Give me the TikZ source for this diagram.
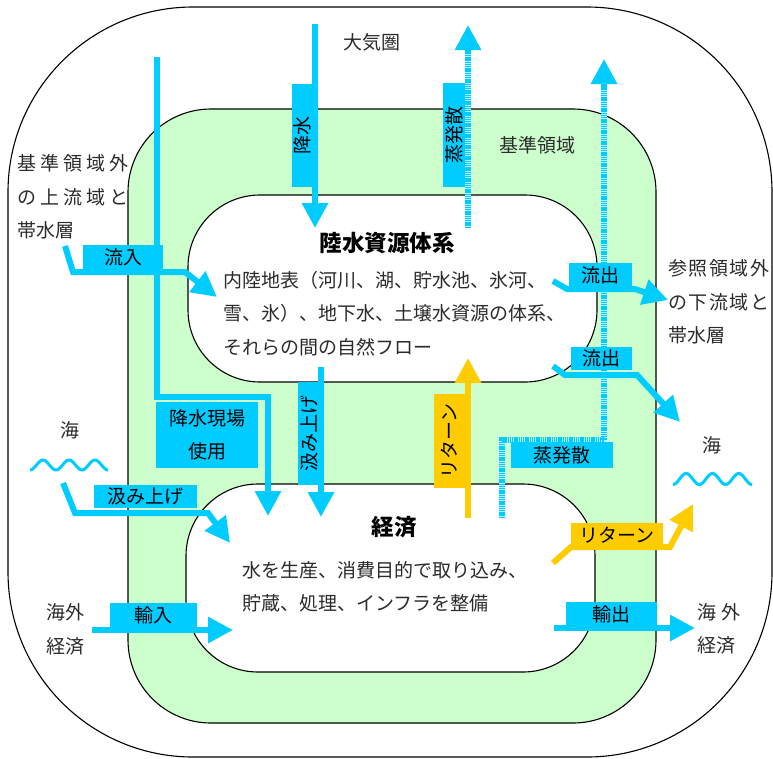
\documentclass[tikz,border=0pt]{standalone}
\usepackage{fontspec}
\newfontfamily\jp{Noto Sans CJK JP}
\usetikzlibrary{arrows.meta}
\definecolor{cy}{HTML}{00CCFF}
\definecolor{cylt}{HTML}{B3EEFF}
\definecolor{yl}{HTML}{FFCC00}
\definecolor{gr}{HTML}{CCFFCC}
\definecolor{tx}{HTML}{2B2B2B}
\begin{document}
\begin{tikzpicture}[x=1pt,y=-1pt,
  every node/.style={font=\jp\fontsize{19}{33}\selectfont, text=tx, inner sep=0pt},
  region/.style={draw=black, line width=1.1pt},
  flow/.style={draw=cy, line width=6pt},
  rflow/.style={draw=yl, line width=6pt},
  tip/.style={-{Triangle[width=25pt,length=25pt]}},
  lab/.style={fill=cy, inner sep=0pt, text=black},
  rlab/.style={fill=yl, inner sep=0pt, text=black},
  evbase/.style={draw=cylt, line width=6pt},
  evdash/.style={draw=cy, line width=6pt, dash pattern=on 1.4pt off 0.8pt},
  title/.style={font=\jp\bfseries\fontsize{22.5}{26}\selectfont, text=black},
  wave/.style={draw=cy, line width=3pt}
]
\useasboundingbox (0,0) rectangle (773,758);

% regions
\draw[region, rounded corners=185pt] (8,7) rectangle (772,757);
\draw[region, fill=gr, rounded corners=83pt] (128,109) rectangle (656,723);
\draw[region, fill=white, rounded corners=72pt] (188,195) rectangle (597,382);
\draw[region, fill=white, rounded corners=72pt] (186,484) rectangle (595,672);

% texts
\node (atm) at (372,42) {大気圏};
\node (refarea) at (537,145) {基準領域};
\node[anchor=west] (up1) at (17,163) {基\hspace{4pt}準\hspace{4pt}領\hspace{4pt}域\hspace{4pt}外};
\node[anchor=west] (up2) at (17,197) {の\hspace{4pt}上\hspace{4pt}流\hspace{4pt}域\hspace{4pt}と};
\node[anchor=west] (up3) at (17,230) {帯水層};
\node[anchor=west] (dn1) at (668,268) {参\hspace{1.5pt}照\hspace{1.5pt}領\hspace{1.5pt}域\hspace{1.5pt}外};
\node[anchor=west] (dn2) at (668,302) {の\hspace{1.5pt}下\hspace{1.5pt}流\hspace{1.5pt}域\hspace{1.5pt}と};
\node[anchor=west] (dn3) at (668,335) {帯水層};
\node (seaL) at (70,430) {海};
\node (seaR) at (712,445) {海};
\node (ecoL1) at (65,612) {海外};
\node (ecoL2) at (65,646) {経済};
\node[anchor=west] (ecoR1) at (697,612) {海\hspace{5pt}外};
\node[anchor=west] (ecoR2) at (697,645) {経済};

\node[title] (rikusui) at (387,243) {陸水資源体系};
\node[anchor=west] (d1) at (223,280) {内陸地表（河川、湖、貯水池、氷河、};
\node[anchor=west] (d2) at (223,313) {雪、氷）、地下水、土壌水資源の体系、};
\node[anchor=west] (d3) at (223,347) {それらの間の自然フロー};
\node[title] (keizai) at (394,527) {経済};
\node[anchor=west] (e1) at (242,570) {水を生産、消費目的で取り込み、};
\node[anchor=west] (e2) at (242,603) {貯蔵、処理、インフラを整備};

% waves
\draw[wave] plot[domain=0:78, samples=80] ({30+\x}, {465+5*cos(\x/26*360)});
\draw[wave] plot[domain=0:79, samples=80] ({673+\x}, {479+5.5*cos(\x/26.3*360)});

% coordinates
\coordinate (kS) at (315,24);   \coordinate (kE) at (315,228);
\coordinate (gS) at (157,57);   \coordinate (gE) at (268,516);
\coordinate (iS) at (65,246);   \coordinate (iE) at (217,297);
\coordinate (u1S) at (321,367); \coordinate (u1E) at (321,517);
\coordinate (u2S) at (63,483);  \coordinate (u2E) at (230,543);
\coordinate (imS) at (92,630);  \coordinate (imE) at (233,630);
\coordinate (exS) at (554,628); \coordinate (exE) at (695,628);
\coordinate (o1S) at (553,281); \coordinate (o1E) at (668,300);
\coordinate (o2S) at (553,366); \coordinate (o2E) at (680,422);
\coordinate (r1S) at (468,518); \coordinate (r1E) at (468,358);
\coordinate (r2S) at (553,563); \coordinate (r2E) at (693,504);
\coordinate (v1S) at (468,228); \coordinate (v1B) at (468,50);  \coordinate (v1E) at (468,25);
\coordinate (v2S) at (502,518); \coordinate (v2B) at (604,84);  \coordinate (v2E) at (604,59);

% evaporation (striped), drawn below the label boxes
\draw[evbase] (v1S) -- (v1B);
\draw[evdash] (v1S) -- (v1B);
\draw[flow, tip] (468,53) -- (v1E);
\draw[evbase] (v2S) -- (502,440) -- (604,440) -- (v2B);
\draw[evdash] (v2S) -- (502,440) -- (604,440) -- (v2B);
\draw[flow, tip] (604,87) -- (v2E);

% label boxes
\node[lab, rotate=90, minimum width=103pt, minimum height=21pt] (bKousui) at (302.5,135.5) {降水};
\node[lab, rotate=90, minimum width=104pt, minimum height=22pt] (bJou1) at (454,135) {蒸発散};
\node[lab, minimum width=80pt, minimum height=24pt] (bRyunyu) at (123,257) {流入};
\node[lab, minimum width=102pt, minimum height=66pt, align=center] (bGenba) at (207,435) {降水現場\\使用};
\node[lab, rotate=90, minimum width=103pt, minimum height=22pt] (bKumi1) at (309,433.5) {汲み上げ};
\node[rlab, rotate=90, minimum width=94pt, minimum height=31pt] (bRet1) at (449.5,441) {リターン};
\node[lab, minimum width=102pt, minimum height=26pt] (bJou2) at (562,455) {蒸発散};
\node[lab, minimum width=63pt, minimum height=24pt] (bOut1) at (600.5,275) {流出};
\node[lab, minimum width=61pt, minimum height=23pt] (bOut2) at (601.5,358.5) {流出};
\node[lab, minimum width=103pt, minimum height=23pt] (bKumi2) at (145.5,496.5) {汲み上げ};
\node[rlab, minimum width=92pt, minimum height=24pt] (bRet2) at (617,535) {リターン};
\node[lab, minimum width=87pt, minimum height=24pt] (bImp) at (153.5,615) {輸入};
\node[lab, minimum width=91pt, minimum height=25pt] (bExp) at (611.5,614.5) {輸出};

% flows
\draw[flow, tip] (kS) -- (kE);
\draw[flow, tip] (gS) -- (157,397) -- (268,397) -- (gE);
\draw[flow, tip] (iS) -- (73,272) -- (185,272) -- (iE);
\draw[flow, tip] (u1S) -- (u1E);
\draw[flow, tip] (u2S) -- (75,513) -- (208,513) -- (u2E);
\draw[flow, tip] (imS) -- (imE);
\draw[flow, tip] (exS) -- (exE);
\draw[flow, tip] (o1S) -- (567,289) -- (635,289) -- (o1E);
\draw[flow, tip] (o2S) -- (565,375) -- (637,375) -- (o2E);
\draw[rflow, tip] (r1S) -- (r1E);
\draw[rflow, tip] (r2S) -- (571,547) -- (670,547) -- (r2E);
\end{tikzpicture}
\end{document}
